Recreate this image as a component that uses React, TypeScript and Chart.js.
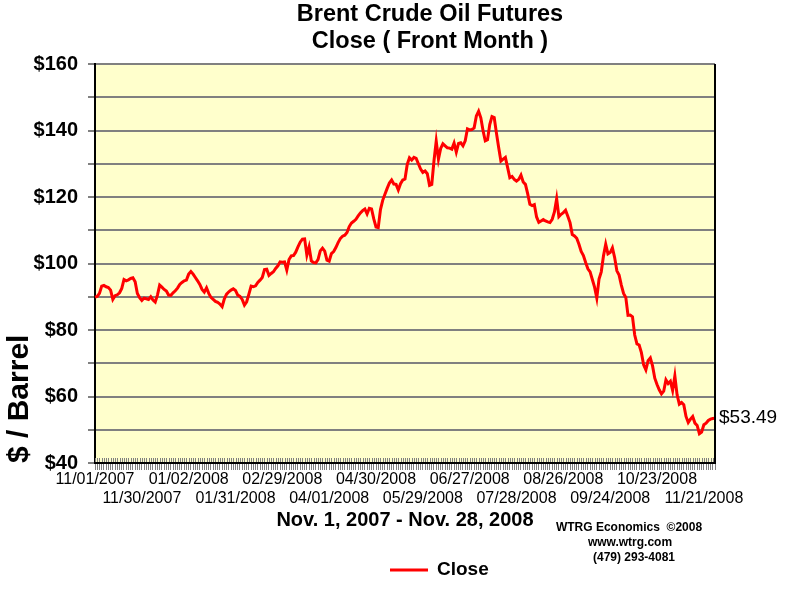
import React, { useEffect, useRef } from 'react';
import { Chart, registerables } from 'chart.js';

Chart.register(...registerables);

const FONT = '"Liberation Sans", Arial, sans-serif';

const titleLines = ['Brent Crude Oil Futures', 'Close ( Front Month )'];
const seriesName = 'Close';
const xAxisTitle = 'Nov. 1, 2007 - Nov. 28, 2008';
const yAxisTitle = '$ / Barrel';
const creditLines = ['WTRG Economics  \u00A92008', 'www.wtrg.com', '(479) 293-4081'];
const lastValueLabel = '$53.49';

// Date labels shown under the axis, one every 21 trading days (alternating rows)
const tickDates = [
  '11/01/2007', '11/30/2007', '01/02/2008', '01/31/2008', '02/29/2008',
  '04/01/2008', '04/30/2008', '05/29/2008', '06/27/2008', '07/28/2008',
  '08/26/2008', '09/24/2008', '10/23/2008', '11/21/2008',
];
const tickEvery = 21;

// Daily close, $/barrel, Nov 1 2007 .. Nov 28 2008
const closeValues = [
  89.9, 90.1, 91.0, 93.2, 93.4, 93.0, 92.8, 92.0, 89.2, 90.3,
  90.6, 91.2, 92.5, 95.2, 94.8, 95.1, 95.5, 95.7, 94.5, 91.0,
  89.7, 88.9, 89.6, 89.4, 89.2, 90.0, 89.0, 88.4, 90.5, 93.5,
  92.9, 92.2, 91.7, 90.5, 90.4, 91.2, 91.8, 92.6, 93.7, 94.3,
  94.8, 95.0, 96.8, 97.6, 96.8, 95.8, 94.8, 93.7, 92.2, 91.4,
  92.7, 91.0, 89.8, 89.2, 88.6, 88.3, 87.8, 87.0, 89.4, 90.8,
  91.5, 92.0, 92.4, 91.9, 90.5, 90.1, 89.2, 87.5, 88.5, 90.8,
  93.2, 93.0, 93.3, 94.3, 95.0, 95.8, 98.2, 98.3, 96.4, 97.0,
  97.5, 98.5, 99.3, 100.5, 100.4, 100.5, 98.0, 101.2, 102.3, 102.4,
  103.4, 105.0, 106.4, 107.3, 107.4, 102.5, 105.0, 100.8, 100.3, 100.2,
  101.2, 103.8, 104.6, 103.7, 101.0, 100.7, 103.0, 103.6, 104.8, 106.3,
  107.5, 108.2, 108.5, 109.3, 111.1, 112.2, 112.7, 113.3, 114.3, 115.2,
  115.9, 116.4, 114.9, 116.6, 116.4, 113.4, 111.0, 110.8, 116.2, 119.0,
  120.8, 122.6, 124.2, 125.1, 123.9, 123.8, 122.1, 124.0, 125.1, 125.4,
  129.8, 131.8, 131.1, 131.9, 131.6, 130.0, 128.4, 127.4, 127.8, 127.0,
  123.5, 123.8, 130.9, 136.8, 131.4, 134.6, 136.0, 135.4, 134.8, 134.7,
  134.4, 136.2, 133.5, 136.1, 136.3, 135.4, 136.9, 140.5, 140.2, 140.3,
  140.8, 144.4, 145.8, 143.8, 139.9, 136.9, 137.2, 141.8, 144.2, 143.9,
  139.2, 134.9, 130.8, 131.4, 131.9, 128.9, 125.8, 126.2, 125.3, 124.8,
  125.3, 126.6, 124.5, 123.8, 121.0, 117.8, 117.4, 117.7, 114.0, 112.4,
  112.8, 113.2, 112.8, 112.5, 112.3, 113.3, 115.5, 119.5, 114.1, 114.8,
  115.3, 116.0, 114.2, 112.3, 108.7, 108.3, 107.6, 105.8, 103.6, 102.4,
  100.3, 98.4, 97.5, 95.2, 92.9, 89.6, 95.3, 97.5, 102.3, 105.8,
  102.9, 103.3, 104.7, 101.8, 97.8, 96.5, 93.5, 91.0, 89.8, 84.4,
  84.5, 84.0, 78.5, 75.8, 75.5, 73.2, 69.5, 68.0, 70.8, 71.6,
  69.2, 65.5, 63.6, 62.0, 60.8, 61.6, 65.0, 63.9, 64.6, 61.8,
  66.2, 60.5, 57.7, 58.2, 57.5, 54.0, 52.2, 53.2, 54.0, 52.0,
  51.3, 48.8, 49.3, 51.5, 52.0, 52.8, 53.2, 53.4, 53.49,
];

const categories = closeValues.map((_, i) =>
  i % tickEvery === 0 && tickDates[i / tickEvery] ? tickDates[i / tickEvery] : ''
);

const yMin = 40;
const yMax = 160;
const yStep = 10;
const yLabelStep = 20;

const decorPlugin = {
  id: 'decor',
  beforeDraw(chart: any) {
    const { ctx, chartArea: a } = chart;
    ctx.save();
    ctx.fillStyle = '#FFFFCC';
    ctx.fillRect(a.left, a.top, a.right - a.left, a.bottom - a.top);
    ctx.restore();
  },
  afterDraw(chart: any) {
    const { ctx, chartArea: a } = chart;
    const xs = chart.scales.x;
    ctx.save();
    // short tick marks inside plot area
    ctx.strokeStyle = '#808080';
    ctx.lineWidth = 1;
    ctx.beginPath();
    for (let i = 0; i < xs.ticks.length; i++) {
      const px = Math.round(xs.getPixelForTick(i)) + 0.5;
      ctx.moveTo(px, a.bottom - 5);
      ctx.lineTo(px, a.bottom - 1);
    }
    ctx.stroke();
    // right border
    ctx.strokeStyle = '#000';
    ctx.lineWidth = 2;
    ctx.beginPath();
    ctx.moveTo(a.right, a.top);
    ctx.lineTo(a.right, a.bottom + 1);
    ctx.stroke();

    ctx.fillStyle = '#000';
    ctx.textBaseline = 'middle';
    // title
    ctx.textAlign = 'center';
    ctx.font = `bold 23.5px ${FONT}`;
    ctx.fillText(titleLines[0], 430, 15);
    ctx.fillText(titleLines[1], 430, 42);

    // last value label
    const meta = chart.getDatasetMeta(0);
    const last = meta.data[meta.data.length - 1];
    if (last) {
      ctx.textAlign = 'left';
      ctx.font = `19px ${FONT}`;
      ctx.fillText(lastValueLabel, last.x + 4, last.y);
    }

    // credits
    ctx.textAlign = 'center';
    ctx.font = `bold 12px ${FONT}`;
    ctx.fillText(creditLines[0], 629, 528);
    ctx.fillText(creditLines[1], 630, 543);
    ctx.fillText(creditLines[2], 634, 558);

    // legend
    const ds = chart.data.datasets[0];
    ctx.strokeStyle = ds.borderColor;
    ctx.lineWidth = 3;
    ctx.beginPath();
    ctx.moveTo(390, 570);
    ctx.lineTo(428, 570);
    ctx.stroke();
    ctx.textAlign = 'left';
    ctx.font = `bold 19px ${FONT}`;
    ctx.fillText(ds.label, 437, 570);
    ctx.restore();
  },
};

export default function App() {
  const canvasRef = useRef<HTMLCanvasElement | null>(null);

  useEffect(() => {
    if (!canvasRef.current) return;
    const chart = new Chart(canvasRef.current, {
      type: 'line',
      data: {
        labels: categories,
        datasets: [
          {
            label: seriesName,
            data: closeValues,
            borderColor: '#FF0000',
            backgroundColor: '#FF0000',
            borderWidth: 3,
            pointRadius: 0,
            tension: 0,
            fill: false,
          },
        ],
      },
      options: {
        responsive: false,
        animation: false,
        layout: { padding: { top: 64, right: 85, left: 0, bottom: 0 } },
        plugins: {
          legend: { display: false },
          title: { display: false },
          tooltip: { enabled: false },
        },
        scales: {
          x: {
            type: 'category',
            offset: false,
            afterFit: (s: any) => {
              s.height = 137;
            },
            grid: {
              drawOnChartArea: false,
              drawTicks: true,
              tickLength: 7,
              color: '#808080',
              lineWidth: 1,
            },
            border: { display: true, color: '#000', width: 2 },
            ticks: {
              autoSkip: false,
              maxRotation: 0,
              minRotation: 0,
              padding: 0,
              color: '#000',
              font: { family: FONT, size: 16, lineHeight: 1.2 },
              callback: (_v: any, index: number) => {
                const lab = categories[index];
                if (!lab) return '';
                const k = index / tickEvery;
                return k % 2 === 0 ? [lab, ''] : ['', lab];
              },
            },
            title: {
              display: true,
              text: xAxisTitle,
              color: '#000',
              font: { family: FONT, size: 20, weight: 'bold', lineHeight: 1.2 },
              padding: { top: 0, bottom: 68 },
            },
          },
          y: {
            min: yMin,
            max: yMax,
            afterFit: (s: any) => {
              s.width = 95;
            },
            grid: { color: '#808080', lineWidth: 2, tickLength: 7 },
            border: { display: true, color: '#000', width: 2 },
            ticks: {
              stepSize: yStep,
              padding: 10,
              color: '#000',
              font: { family: FONT, size: 20, weight: 'bold' },
              callback: (v: any) => (Number(v) % yLabelStep === 0 ? '$' + v : ''),
            },
            title: {
              display: true,
              text: yAxisTitle,
              align: 'start',
              color: '#000',
              font: { family: FONT, size: 30, weight: 'bold', lineHeight: 1.2 },
              padding: { top: 2, bottom: 0 },
            },
          },
        },
      } as any,
      plugins: [decorPlugin],
    });
    return () => chart.destroy();
  }, []);

  return (
    <div style={{ position: 'absolute', left: 0, top: 0, width: 800, height: 600, background: '#fff' }}>
      <canvas ref={canvasRef} width={800} height={600} style={{ display: 'block', width: 800, height: 600 }} />
    </div>
  );
}
